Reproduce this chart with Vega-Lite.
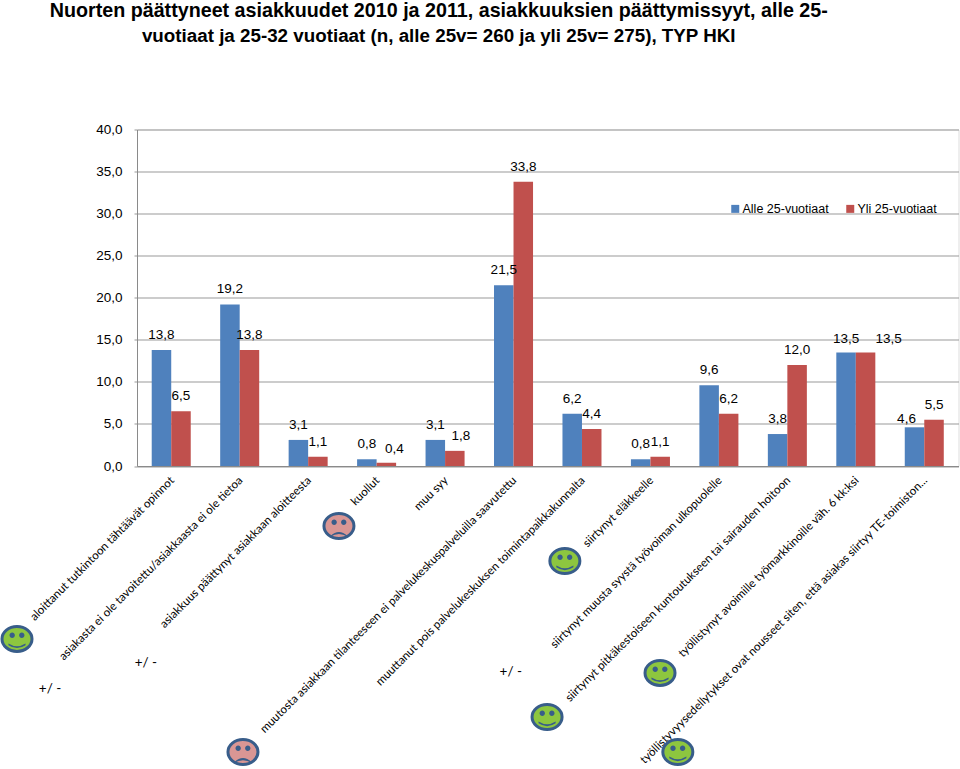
{"$schema":"https://vega.github.io/schema/vega-lite/v6.json","width":821.5,"height":336.5,"autosize":"none","padding":{"left":137,"top":129.5,"right":1.5,"bottom":303},"background":"white","title":{"text":"Nuorten päättyneet asiakkuudet 2010 ja 2011, asiakkuuksien päättymissyyt, alle 25-","subtitle":"vuotiaat ja 25-32 vuotiaat (n, alle 25v= 260 ja yli 25v= 275), TYP HKI\u00a0\u00a0\u00a0\u00a0\u00a0","anchor":"middle","dx":-109,"offset":77,"font":"Liberation Sans","fontSize":19.7,"fontWeight":"bold","color":"#000000","subtitleFont":"Liberation Sans","subtitleFontSize":18.8,"subtitleFontWeight":"bold","subtitleColor":"#000000","subtitlePadding":6},"datasets":{"bars":[{"syy":"aloittanut tutkintoon tähtäävät opinnot","ryhma":"Alle 25-vuotiaat","arvo":13.8,"label":"13,8"},{"syy":"aloittanut tutkintoon tähtäävät opinnot","ryhma":"Yli 25-vuotiaat","arvo":6.5,"label":"6,5"},{"syy":"asiakasta ei ole tavoitettu/asiakkaasta ei ole tietoa","ryhma":"Alle 25-vuotiaat","arvo":19.2,"label":"19,2"},{"syy":"asiakasta ei ole tavoitettu/asiakkaasta ei ole tietoa","ryhma":"Yli 25-vuotiaat","arvo":13.8,"label":"13,8"},{"syy":"asiakkuus päättynyt asiakkaan aloitteesta","ryhma":"Alle 25-vuotiaat","arvo":3.1,"label":"3,1"},{"syy":"asiakkuus päättynyt asiakkaan aloitteesta","ryhma":"Yli 25-vuotiaat","arvo":1.1,"label":"1,1"},{"syy":"kuollut","ryhma":"Alle 25-vuotiaat","arvo":0.8,"label":"0,8"},{"syy":"kuollut","ryhma":"Yli 25-vuotiaat","arvo":0.4,"label":"0,4"},{"syy":"muu syy","ryhma":"Alle 25-vuotiaat","arvo":3.1,"label":"3,1"},{"syy":"muu syy","ryhma":"Yli 25-vuotiaat","arvo":1.8,"label":"1,8"},{"syy":"muutosta asiakkaan tilanteeseen ei palvelukeskuspalveluilla saavutettu","ryhma":"Alle 25-vuotiaat","arvo":21.5,"label":"21,5"},{"syy":"muutosta asiakkaan tilanteeseen ei palvelukeskuspalveluilla saavutettu","ryhma":"Yli 25-vuotiaat","arvo":33.8,"label":"33,8"},{"syy":"muuttanut pois palvelukeskuksen toimintapaikkakunnalta","ryhma":"Alle 25-vuotiaat","arvo":6.2,"label":"6,2"},{"syy":"muuttanut pois palvelukeskuksen toimintapaikkakunnalta","ryhma":"Yli 25-vuotiaat","arvo":4.4,"label":"4,4"},{"syy":"siirtynyt eläkkeelle","ryhma":"Alle 25-vuotiaat","arvo":0.8,"label":"0,8"},{"syy":"siirtynyt eläkkeelle","ryhma":"Yli 25-vuotiaat","arvo":1.1,"label":"1,1"},{"syy":"siirtynyt muusta syystä työvoiman ulkopuolelle","ryhma":"Alle 25-vuotiaat","arvo":9.6,"label":"9,6"},{"syy":"siirtynyt muusta syystä työvoiman ulkopuolelle","ryhma":"Yli 25-vuotiaat","arvo":6.2,"label":"6,2"},{"syy":"siirtynyt pitkäkestoiseen kuntoutukseen tai sairauden hoitoon","ryhma":"Alle 25-vuotiaat","arvo":3.8,"label":"3,8"},{"syy":"siirtynyt pitkäkestoiseen kuntoutukseen tai sairauden hoitoon","ryhma":"Yli 25-vuotiaat","arvo":12.0,"label":"12,0"},{"syy":"työllistynyt avoimille työmarkkinoille väh. 6 kk:ksi","ryhma":"Alle 25-vuotiaat","arvo":13.5,"label":"13,5"},{"syy":"työllistynyt avoimille työmarkkinoille väh. 6 kk:ksi","ryhma":"Yli 25-vuotiaat","arvo":13.5,"label":"13,5"},{"syy":"työllistyvyysedellytykset ovat nousseet siten, että asiakas siirtyy TE-toimiston...","ryhma":"Alle 25-vuotiaat","arvo":4.6,"label":"4,6"},{"syy":"työllistyvyysedellytykset ovat nousseet siten, että asiakas siirtyy TE-toimiston...","ryhma":"Yli 25-vuotiaat","arvo":5.5,"label":"5,5"}],"faces":[{"paikka":-1.753,"taso":-20.56,"mieli":"hyvä"},{"paikka":2.95,"taso":-7.13,"mieli":"paha"},{"paikka":1.548,"taso":-34,"mieli":"paha"},{"paikka":6.25,"taso":-11.29,"mieli":"hyvä"},{"paikka":7.64,"taso":-24.6,"mieli":"hyvä"},{"paikka":5.99,"taso":-29.84,"mieli":"hyvä"},{"paikka":7.9,"taso":-34,"mieli":"hyvä"}],"notes":[{"paikka":-1.27,"taso":-26.5,"teksti":"+/ -"},{"paikka":0.13,"taso":-23.4,"teksti":"+/ -"},{"paikka":5.46,"taso":-24.47,"teksti":"+/ -"}]},"resolve":{"scale":{"x":"independent"}},"layer":[{"data":{"name":"bars"},"mark":{"type":"bar"},"encoding":{"x":{"field":"syy","type":"nominal","sort":null,"title":null,"scale":{"paddingInner":0.43,"paddingOuter":0.215},"axis":{"labelAngle":-45,"labelAlign":"right","labelBaseline":"middle","labelFont":"Lato","labelFontSize":11.6,"labelColor":"#000000","labelLimit":600,"labelPadding":12.5,"labelOffset":1.5,"labelOverlap":false,"ticks":false,"domainColor":"#8A8A8A"}},"xOffset":{"field":"ryhma","type":"nominal","sort":null,"scale":{"paddingInner":0,"paddingOuter":0}},"y":{"field":"arvo","type":"quantitative","title":null,"scale":{"domain":[0,40]},"axis":{"values":[0,5,10,15,20,25,30,35,40],"labelExpr":"replace(format(datum.value,'.1f'),'.',',')","labelFont":"Liberation Sans","labelFontSize":13.5,"labelColor":"#000000","labelPadding":12,"grid":true,"gridColor":"#999999","gridOpacity":1,"tickColor":"#999999","tickSize":3,"domainColor":"#8A8A8A"}},"color":{"field":"ryhma","type":"nominal","sort":null,"scale":{"domain":["Alle 25-vuotiaat","Yli 25-vuotiaat"],"range":["#4F81BD","#C0504D"]},"legend":{"orient":"none","legendX":592,"legendY":73,"direction":"horizontal","title":null,"symbolType":"square","symbolSize":64,"labelFont":"Liberation Sans","labelFontSize":12.5,"labelColor":"#000000","labelOffset":1,"columnPadding":15,"labelLimit":200}}}},{"data":{"name":"bars"},"transform":[{"filter":"!(datum.label=='0,4'||datum.label=='1,8'||datum.label=='13,5'||datum.label=='4,6')"}],"mark":{"type":"text","dy":-15,"font":"Liberation Sans","fontSize":13.5,"color":"#000000"},"encoding":{"x":{"field":"syy","type":"nominal","sort":null,"axis":null,"scale":{"domain":{"data":"bars","field":"syy"},"paddingInner":0.43,"paddingOuter":0.215}},"xOffset":{"field":"ryhma","type":"nominal","sort":null},"y":{"field":"arvo","type":"quantitative","scale":{"domain":[0,40]}},"text":{"field":"label"}}},{"data":{"name":"bars"},"transform":[{"filter":"datum.label=='0,4'"}],"mark":{"type":"text","dy":-14,"dx":8,"font":"Liberation Sans","fontSize":13.5,"color":"#000000"},"encoding":{"x":{"field":"syy","type":"nominal","sort":null,"axis":null,"scale":{"domain":{"data":"bars","field":"syy"},"paddingInner":0.43,"paddingOuter":0.215}},"xOffset":{"field":"ryhma","type":"nominal","sort":null,"scale":{"domain":["Alle 25-vuotiaat","Yli 25-vuotiaat"]}},"y":{"field":"arvo","type":"quantitative","scale":{"domain":[0,40]}},"text":{"field":"label"}}},{"data":{"name":"bars"},"transform":[{"filter":"datum.label=='1,8'"}],"mark":{"type":"text","dy":-15,"dx":6,"font":"Liberation Sans","fontSize":13.5,"color":"#000000"},"encoding":{"x":{"field":"syy","type":"nominal","sort":null,"axis":null,"scale":{"domain":{"data":"bars","field":"syy"},"paddingInner":0.43,"paddingOuter":0.215}},"xOffset":{"field":"ryhma","type":"nominal","sort":null,"scale":{"domain":["Alle 25-vuotiaat","Yli 25-vuotiaat"]}},"y":{"field":"arvo","type":"quantitative","scale":{"domain":[0,40]}},"text":{"field":"label"}}},{"data":{"name":"bars"},"transform":[{"filter":"datum.label=='13,5'&&datum.ryhma=='Yli 25-vuotiaat'"}],"mark":{"type":"text","dy":-13,"dx":23,"font":"Liberation Sans","fontSize":13.5,"color":"#000000"},"encoding":{"x":{"field":"syy","type":"nominal","sort":null,"axis":null,"scale":{"domain":{"data":"bars","field":"syy"},"paddingInner":0.43,"paddingOuter":0.215}},"xOffset":{"field":"ryhma","type":"nominal","sort":null,"scale":{"domain":["Alle 25-vuotiaat","Yli 25-vuotiaat"]}},"y":{"field":"arvo","type":"quantitative","scale":{"domain":[0,40]}},"text":{"field":"label"}}},{"data":{"name":"bars"},"transform":[{"filter":"datum.label=='13,5'&&datum.ryhma=='Alle 25-vuotiaat'"}],"mark":{"type":"text","dy":-13,"font":"Liberation Sans","fontSize":13.5,"color":"#000000"},"encoding":{"x":{"field":"syy","type":"nominal","sort":null,"axis":null,"scale":{"domain":{"data":"bars","field":"syy"},"paddingInner":0.43,"paddingOuter":0.215}},"xOffset":{"field":"ryhma","type":"nominal","sort":null,"scale":{"domain":["Alle 25-vuotiaat","Yli 25-vuotiaat"]}},"y":{"field":"arvo","type":"quantitative","scale":{"domain":[0,40]}},"text":{"field":"label"}}},{"data":{"name":"bars"},"transform":[{"filter":"datum.label=='4,6'"}],"mark":{"type":"text","dy":-8,"dx":-8,"font":"Liberation Sans","fontSize":13.5,"color":"#000000"},"encoding":{"x":{"field":"syy","type":"nominal","sort":null,"axis":null,"scale":{"domain":{"data":"bars","field":"syy"},"paddingInner":0.43,"paddingOuter":0.215}},"xOffset":{"field":"ryhma","type":"nominal","sort":null,"scale":{"domain":["Alle 25-vuotiaat","Yli 25-vuotiaat"]}},"y":{"field":"arvo","type":"quantitative","scale":{"domain":[0,40]}},"text":{"field":"label"}}},{"data":{"name":"faces"},"mark":{"type":"point","filled":true,"opacity":1,"stroke":"#385D8A","strokeWidth":3,"size":900,"shape":"M-1 0C-1 -0.46 -0.55 -0.83 0 -0.83C0.55 -0.83 1 -0.46 1 0C1 0.46 0.55 0.83 0 0.83C-0.55 0.83 -1 0.46 -1 0Z"},"encoding":{"x":{"field":"paikka","type":"quantitative","axis":null,"scale":{"domain":[0,12]}},"y":{"field":"taso","type":"quantitative","scale":{"domain":[0,40]}},"fill":{"field":"mieli","type":"nominal","scale":{"domain":["hyvä","paha"],"range":["#8DC63F","#D99694"]},"legend":null}}},{"data":{"name":"faces"},"mark":{"type":"point","filled":true,"opacity":1,"color":"#385D8A","size":900},"encoding":{"x":{"field":"paikka","type":"quantitative","axis":null,"scale":{"domain":[0,12]}},"y":{"field":"taso","type":"quantitative","scale":{"domain":[0,40]}},"shape":{"field":"mieli","type":"nominal","scale":{"domain":["hyvä","paha"],"range":["M-0.5 -0.25C-0.5 -0.35 -0.41 -0.43 -0.32 -0.43C-0.23 -0.43 -0.14 -0.35 -0.14 -0.25C-0.14 -0.15 -0.23 -0.07 -0.32 -0.07C-0.41 -0.07 -0.5 -0.15 -0.5 -0.25ZM0.14 -0.25C0.14 -0.35 0.23 -0.43 0.32 -0.43C0.41 -0.43 0.5 -0.35 0.5 -0.25C0.5 -0.15 0.41 -0.07 0.32 -0.07C0.23 -0.07 0.14 -0.15 0.14 -0.25ZM-0.57 0.3Q0 0.66 0.57 0.3L0.57 0.42Q0 0.8 -0.57 0.42Z","M-0.5 -0.25C-0.5 -0.35 -0.41 -0.43 -0.32 -0.43C-0.23 -0.43 -0.14 -0.35 -0.14 -0.25C-0.14 -0.15 -0.23 -0.07 -0.32 -0.07C-0.41 -0.07 -0.5 -0.15 -0.5 -0.25ZM0.14 -0.25C0.14 -0.35 0.23 -0.43 0.32 -0.43C0.41 -0.43 0.5 -0.35 0.5 -0.25C0.5 -0.15 0.41 -0.07 0.32 -0.07C0.23 -0.07 0.14 -0.15 0.14 -0.25ZM-0.57 0.66Q0 0.14 0.57 0.66L0.57 0.72Q0 0.36 -0.57 0.72Z"]},"legend":null}}},{"data":{"name":"notes"},"mark":{"type":"text","font":"Lato","fontSize":13.5,"color":"#000000"},"encoding":{"x":{"field":"paikka","type":"quantitative","axis":null,"scale":{"domain":[0,12]}},"y":{"field":"taso","type":"quantitative","scale":{"domain":[0,40]}},"text":{"field":"teksti"}}}]}
